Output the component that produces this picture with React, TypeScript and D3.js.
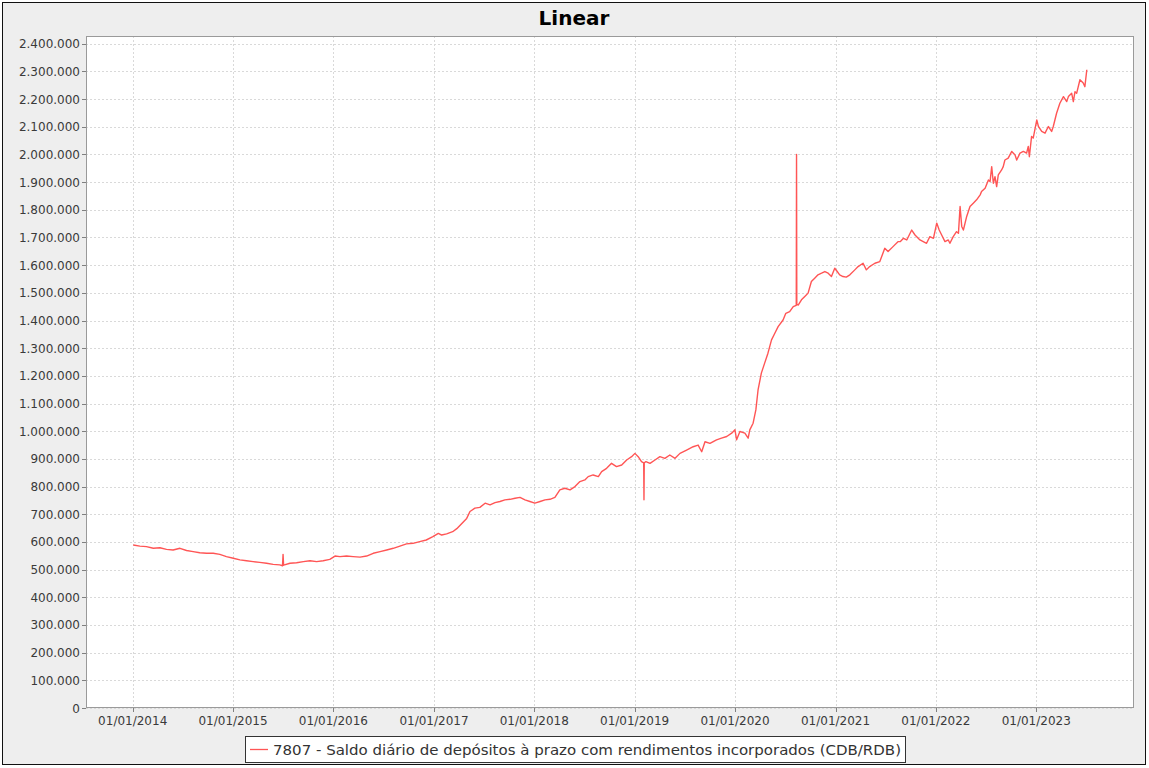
import React from "react";
import * as d3 from "d3";

const TITLE = "Linear";
const SERIES_NAME = "7807 - Saldo diário de depósitos à prazo com rendimentos incorporados (CDB/RDB)";

const dates: string[] = [
  "2014-01-03","2014-01-27","2014-02-20","2014-03-17","2014-04-10","2014-05-04","2014-05-28","2014-06-22",
  "2014-07-16","2014-08-09","2014-09-02","2014-09-27","2014-10-21","2014-11-14","2014-12-08","2015-01-02",
  "2015-01-26","2015-02-19","2015-03-15","2015-04-08","2015-05-03","2015-05-27","2015-06-20","2015-06-30",
  "2015-07-02","2015-07-04","2015-07-27","2015-08-20","2015-09-14","2015-10-08","2015-11-01","2015-11-25",
  "2015-12-19","2016-01-07","2016-01-25","2016-02-18","2016-03-13","2016-04-07","2016-05-01","2016-05-25",
  "2016-06-19","2016-07-13","2016-08-06","2016-08-30","2016-09-23","2016-10-17","2016-11-10","2016-12-04",
  "2016-12-28","2017-01-17","2017-01-29","2017-02-16","2017-03-10","2017-03-25","2017-04-30","2017-05-12",
  "2017-05-30","2017-06-17","2017-07-06","2017-07-24","2017-08-11","2017-08-29","2017-09-16","2017-10-05",
  "2017-10-23","2017-11-10","2017-11-28","2017-12-16","2018-01-03","2018-01-22","2018-02-09","2018-02-27",
  "2018-03-17","2018-04-04","2018-04-22","2018-05-11","2018-05-29","2018-06-16","2018-07-04","2018-07-16",
  "2018-08-03","2018-08-22","2018-09-03","2018-09-21","2018-10-09","2018-10-27","2018-11-15","2018-12-03",
  "2018-12-21","2019-01-02","2019-01-14","2019-01-26","2019-02-03","2019-02-04","2019-02-05","2019-02-11",
  "2019-02-26","2019-03-16","2019-04-03","2019-04-21","2019-05-09","2019-05-28","2019-06-15","2019-07-09",
  "2019-08-02","2019-08-20","2019-09-02","2019-09-14","2019-10-02","2019-10-26","2019-11-13","2019-12-02",
  "2019-12-20","2020-01-01","2020-01-07","2020-01-19","2020-02-06","2020-02-18","2020-02-24","2020-03-07",
  "2020-03-17","2020-03-25","2020-04-06","2020-04-18","2020-04-30","2020-05-13","2020-05-25","2020-06-06",
  "2020-06-24","2020-07-04","2020-07-18","2020-07-31","2020-08-11","2020-08-12","2020-08-13","2020-08-18",
  "2020-08-30","2020-09-11","2020-09-23","2020-10-05","2020-10-17","2020-10-29","2020-11-11","2020-11-23",
  "2020-12-05","2020-12-17","2020-12-29","2021-01-07","2021-01-16","2021-01-28","2021-02-09","2021-02-22",
  "2021-03-12","2021-03-24","2021-04-11","2021-04-23","2021-05-05","2021-05-24","2021-06-11","2021-06-29",
  "2021-07-11","2021-07-29","2021-08-16","2021-08-24","2021-09-05","2021-09-17","2021-10-05","2021-10-17",
  "2021-11-04","2021-11-16","2021-11-28","2021-12-10","2021-12-23","2022-01-04","2022-01-13","2022-01-22",
  "2022-02-03","2022-02-15","2022-02-21","2022-03-05","2022-03-17","2022-03-24","2022-03-30","2022-04-05",
  "2022-04-11","2022-04-23","2022-05-05","2022-05-17","2022-05-29","2022-06-11","2022-06-16","2022-06-29",
  "2022-07-11","2022-07-17","2022-07-23","2022-07-29","2022-08-04","2022-08-10","2022-08-16","2022-08-28",
  "2022-09-03","2022-09-09","2022-09-21","2022-10-04","2022-10-16","2022-10-22","2022-11-03","2022-11-15",
  "2022-11-27","2022-12-03","2022-12-07","2022-12-15","2022-12-21","2023-01-03","2023-01-09","2023-01-21",
  "2023-02-02","2023-02-14","2023-02-26","2023-03-04","2023-03-16","2023-03-28","2023-04-10","2023-04-22",
  "2023-04-28","2023-05-10","2023-05-16","2023-05-22","2023-05-28","2023-06-09","2023-06-21","2023-06-27",
  "2023-07-04"
];

// values in thousands
const valuesK: number[] = [
  589,585,583,577,579,573,571,577,
  569,565,561,559,559,555,547,541,
  535,532,529,526,523,519,517,514,
  555,516,523,525,529,532,529,532,
  537,549,547,549,547,545,549,559,
  565,571,577,585,593,595,601,607,
  619,631,625,629,637,648,685,710,
  722,725,740,734,742,746,752,754,
  758,761,752,746,740,746,752,754,
  761,788,794,788,800,818,824,836,
  842,836,854,866,884,872,878,896,
  908,920,908,890,886,752,886,890,
  884,896,908,902,914,902,920,932,
  944,950,926,962,956,969,975,981,
  993,1005,969,999,993,975,1005,1029,
  1077,1149,1210,1246,1282,1330,1354,1378,
  1402,1426,1432,1450,1455,2000,1458,1456,
  1475,1487,1499,1541,1553,1565,1571,1577,
  1571,1559,1589,1577,1565,1559,1557,1565,
  1583,1595,1607,1583,1595,1607,1613,1661,
  1649,1667,1685,1685,1697,1691,1727,1709,
  1691,1685,1679,1703,1697,1752,1727,1709,
  1685,1691,1679,1703,1721,1715,1812,1740,
  1727,1776,1812,1824,1836,1854,1866,1878,
  1908,1902,1956,1896,1920,1884,1926,1944,
  1956,1980,1987,2011,1998,1980,2005,2011,
  2005,2029,1992,2065,2059,2125,2101,2083,
  2077,2101,2083,2101,2149,2185,2209,2191,
  2209,2221,2191,2227,2221,2270,2258,2245,
  2306
];

const xTickYears: number[] = [2014,2015,2016,2017,2018,2019,2020,2021,2022,2023];
const yTicks: number[] = d3.range(0, 2400001, 100000);

const W = 1149, H = 768;
const M = { left: 86, top: 36, right: 1134, bottom: 708 };

const locale = d3.formatLocale({ decimal: ",", thousands: ".", grouping: [3], currency: ["", ""] });
const fmt = locale.format(",d");
const pad = (n: number) => (n < 10 ? "0" + n : "" + n);

export default function App() {
  const parse = (s: string) => { const [y, m, d] = s.split("-").map(Number); return new Date(Date.UTC(y, m - 1, d)); };
  const data = dates.map((s, i) => ({ t: parse(s), v: valuesK[i] * 1000 }));
  const ref0 = Date.UTC(2014, 0, 1);
  const yearMs = 365.25 * 24 * 3600 * 1000;
  const pxPerYear = 100.4;
  const x0 = 132.7;
  const dStart = new Date(ref0 - ((x0 - M.left) / pxPerYear) * yearMs);
  const dEnd = new Date(ref0 + ((M.right - x0) / pxPerYear) * yearMs);
  const x = d3.scaleUtc().domain([dStart, dEnd]).range([M.left, M.right]);
  const y = d3.scaleLinear().domain([0, 2428000]).range([M.bottom, M.top]);
  const line = d3.line<{ t: Date; v: number }>().x(d => x(d.t)).y(d => y(d.v));
  const xTicks = xTickYears.map(yr => new Date(Date.UTC(yr, 0, 1)));
  const font = "'DejaVu Sans', sans-serif";

  return (
    <svg width={W} height={H} style={{ position: "absolute", left: 0, top: 0 }} fontFamily={font}>
      <rect x={0} y={0} width={W} height={H} fill="#ffffff" />
      <rect x={2.5} y={2.5} width={1143} height={762} fill="#eeeeee" stroke="#111" strokeWidth={1} />
      <text x={574} y={25} textAnchor="middle" fontSize={20} fontWeight="bold" fill="#000">{TITLE}</text>
      <rect x={M.left} y={M.top} width={M.right - M.left} height={M.bottom - M.top} fill="#ffffff" />
      {yTicks.map(v => (
        <line key={"gy" + v} x1={M.left} x2={M.right} y1={Math.round(y(v)) + 0.5} y2={Math.round(y(v)) + 0.5}
          stroke="#d9d9d9" strokeDasharray="2,2" />
      ))}
      {xTicks.map((t, i) => (
        <line key={"gx" + i} x1={Math.round(x(t)) + 0.5} x2={Math.round(x(t)) + 0.5} y1={M.top} y2={M.bottom}
          stroke="#d9d9d9" strokeDasharray="2,2" />
      ))}
      <rect x={M.left + 0.5} y={M.top + 0.5} width={M.right - M.left - 1} height={M.bottom - M.top - 1}
        fill="none" stroke="#9a9a9a" />
      <path d={line(data) || ""} fill="none" stroke="#ff5555" strokeWidth={1.4} strokeLinejoin="round" />
      {yTicks.map(v => (
        <g key={"ty" + v}>
          <line x1={M.left - 4} x2={M.left} y1={Math.round(y(v)) + 0.5} y2={Math.round(y(v)) + 0.5} stroke="#808080" />
          <text x={M.left - 6} y={y(v) + 4.5} textAnchor="end" fontSize={12} fill="#3a3a3a">{fmt(v)}</text>
        </g>
      ))}
      {xTicks.map((t, i) => (
        <g key={"tx" + i}>
          <line x1={Math.round(x(t)) + 0.5} x2={Math.round(x(t)) + 0.5} y1={M.bottom} y2={M.bottom + 4} stroke="#808080" />
          <text x={x(t)} y={M.bottom + 17} textAnchor="middle" fontSize={12} fill="#3a3a3a">
            {`${pad(t.getUTCDate())}/${pad(t.getUTCMonth() + 1)}/${t.getUTCFullYear()}`}
          </text>
        </g>
      ))}
      <rect x={245.5} y={736.5} width={660} height={26} fill="#ffffff" stroke="#333" />
      <line x1={250} x2={268} y1={749.5} y2={749.5} stroke="#ff5555" strokeWidth={1.3} />
      <text x={273} y={755} fontSize={14} fill="#333" textLength={628} lengthAdjust="spacingAndGlyphs">{SERIES_NAME}</text>
    </svg>
  );
}
